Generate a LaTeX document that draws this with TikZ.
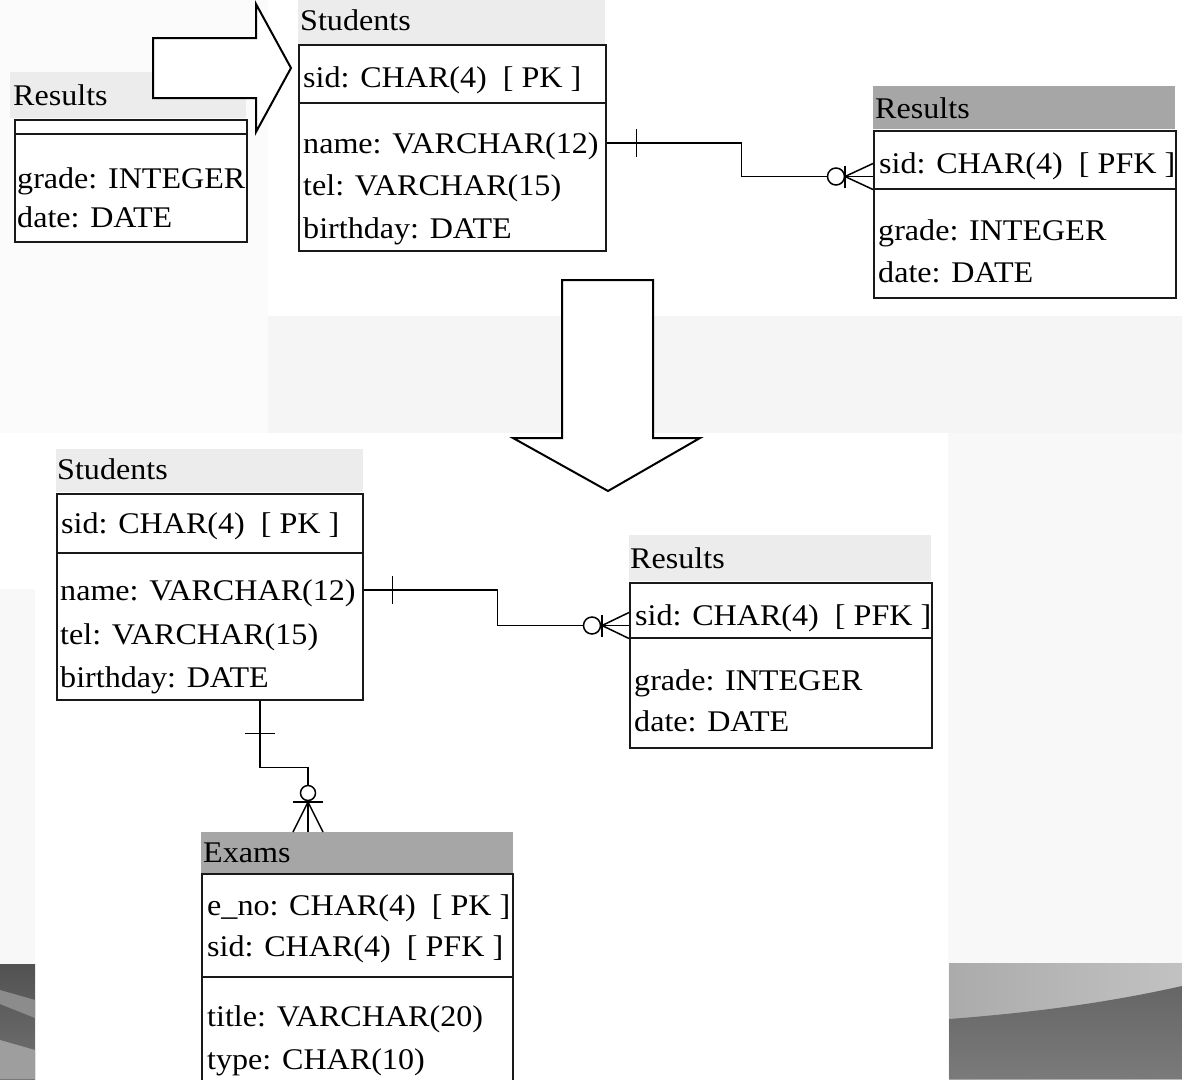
\documentclass[tikz,border=0pt]{standalone}
\usepackage{fontspec}
\setmainfont{Liberation Serif}[FakeStretch=1.07]
\usetikzlibrary{calc}

\definecolor{slidebg}{HTML}{F8F8F8}
\definecolor{bandgray}{HTML}{F5F5F5}
\definecolor{hdrlight}{HTML}{ECECEC}
\definecolor{hdrdark}{HTML}{A6A6A6}

\begin{document}
\begin{tikzpicture}[x=1pt, y=-1pt,
    tbl/.style={draw=black!90, line width=1.5pt, fill=white, anchor=north west, inner sep=0pt},
    hdr/.style={fill=#1, anchor=north west, inner sep=0pt},
    txt/.style={anchor=west, inner sep=0pt, text height=20pt, text depth=0pt,
                font=\fontsize{30}{36}\selectfont},
    conn/.style={line width=1.5pt},
    blockarrow/.style={draw=black, line width=2pt, fill=white, line join=miter}]
        \useasboundingbox (0,0) rectangle (1182,1079);
        \clip (0,0) rectangle (1182,1079);

        % backdrop of the slide
        \fill[slidebg] (0,0) rectangle (1182,1079);
        \fill[white!50!slidebg] (0,0) rectangle (268,433);
        \fill[white] (268,0) rectangle (1182,316);
        \fill[bandgray] (268,316) rectangle (1182,433);
        \fill[white] (0,433) rectangle (948,589);
        \fill[white] (35,589) rectangle (948,1079);
        \shade[top color=black!68, bottom color=black!55] (0,964) rectangle (35,1079);
        \fill[black!45] (0,990) -- (35,1000) -- (35,1018) -- (0,1004) -- cycle;
        \fill[black!38] (0,1040) -- (35,1050) -- (35,1079) -- (0,1079) -- cycle;
        \shade[left color=black!33, right color=black!24] (949,963) rectangle (1182,1079);
        \shade[top color=black!60, bottom color=black!52] (949,1019) .. controls (1040,1012) and (1110,1002) .. (1182,986) -- (1182,1079) -- (949,1079) -- cycle;

        % old Results
        \node[hdr=hdrlight, minimum width=236pt, minimum height=46pt] (ohead) at (10,72) {};
        \node[tbl, minimum width=232pt, minimum height=14pt] (okey) at (14,119) {};
        \node[tbl, minimum width=232pt, minimum height=108pt] (oattr) at (14,133) {};
        \node[txt] (otitle) at (13,95) {Results};
        \node[txt] (ograde) at (17,178) {grade: INTEGER};
        \node[txt] (odate) at (17,217) {date: DATE};

        % Students (top)
        \node[hdr=hdrlight, minimum width=307pt, minimum height=44pt] (shead) at (298,0) {};
        \node[tbl, minimum width=307pt, minimum height=58pt] (skey) at (298,44) {};
        \node[tbl, minimum width=307pt, minimum height=148pt] (sattr) at (298,102) {};
        \node[txt] (stitle) at (300,20) {Students};
        \node[txt] (ssid) at (303,77) {sid: CHAR(4)\ \ [ PK ]};
        \node[txt] (sname) at (303,143) {name: VARCHAR(12)};
        \node[txt] (stel) at (303,185) {tel: VARCHAR(15)};
        \node[txt] (sbirth) at (303,228) {birthday: DATE};

        % Results (top)
        \node[hdr=hdrdark, minimum width=302pt, minimum height=43pt] (rhead) at (873,86) {};
        \node[tbl, minimum width=302pt, minimum height=58pt] (rkey) at (873,130) {};
        \node[tbl, minimum width=302pt, minimum height=109pt] (rattr) at (873,188) {};
        \node[txt] (rtitle) at (875,108) {Results};
        \node[txt] (rsid) at (879,163) {sid: CHAR(4)\ \ [ PFK ]};
        \node[txt] (rgrade) at (878,230) {grade: INTEGER};
        \node[txt] (rdate) at (878,272) {date: DATE};

        % Students (bottom)
        \node[hdr=hdrlight, minimum width=307pt, minimum height=43pt] (bshead) at (56,449) {};
        \node[tbl, minimum width=306pt, minimum height=59pt] (bskey) at (56,493) {};
        \node[tbl, minimum width=306pt, minimum height=147pt] (bsattr) at (56,552) {};
        \node[txt] (bstitle) at (57,469) {Students};
        \node[txt] (bssid) at (61,523) {sid: CHAR(4)\ \ [ PK ]};
        \node[txt] (bsname) at (60,590) {name: VARCHAR(12)};
        \node[txt] (bstel) at (60,634) {tel: VARCHAR(15)};
        \node[txt] (bsbirth) at (60,677) {birthday: DATE};

        % Results (bottom)
        \node[hdr=hdrlight, minimum width=302pt, minimum height=46pt] (brhead) at (629,535) {};
        \node[tbl, minimum width=302pt, minimum height=55pt] (brkey) at (629,582) {};
        \node[tbl, minimum width=302pt, minimum height=110pt] (brattr) at (629,637) {};
        \node[txt] (brtitle) at (630,558) {Results};
        \node[txt] (brsid) at (635,615) {sid: CHAR(4)\ \ [ PFK ]};
        \node[txt] (brgrade) at (634,680) {grade: INTEGER};
        \node[txt] (brdate) at (634,721) {date: DATE};

        % Exams
        \node[hdr=hdrdark, minimum width=312pt, minimum height=41pt] (ehead) at (201,832) {};
        \node[tbl, minimum width=311pt, minimum height=103pt] (ekey) at (201,873) {};
        \node[tbl, minimum width=311pt, minimum height=140pt] (eattr) at (201,976) {};
        \node[txt] (etitle) at (203,852) {Exams};
        \node[txt] (eno) at (207,905) {e\_no: CHAR(4)\ \ [ PK ]};
        \node[txt] (esid) at (207,946) {sid: CHAR(4)\ \ [ PFK ]};
        \node[txt] (etit) at (207,1016) {title: VARCHAR(20)};
        \node[txt] (etype) at (207,1059) {type: CHAR(10)};

        % Students -> Results (top)
        \coordinate (rfoot) at ($(rkey.south west)+(0,-13)$);
        \draw[conn] (sattr.east |- sname) -- ++(135,0) |- (rfoot);
        \draw[conn] ($(sattr.east |- sname)+(30,-14)$) -- ++(0,28);
        \draw[conn] ($(rfoot)+(0,-13)$) -- ($(rfoot)+(-28,0)$) -- ($(rfoot)+(0,13)$);
        \draw[conn] ($(rfoot)+(-28,-11)$) -- ++(0,22);
        \draw[conn, fill=white] ($(rfoot)+(-37,0)$) circle[radius=8.5pt];

        % Students -> Results (bottom)
        \coordinate (bfoot) at ($(brkey.south west)+(0,-13)$);
        \draw[conn] (bsattr.east |- bsname) -- ++(134,0) |- (bfoot);
        \draw[conn] ($(bsattr.east |- bsname)+(29,-14)$) -- ++(0,28);
        \draw[conn] ($(bfoot)+(0,-13)$) -- ($(bfoot)+(-27,0)$) -- ($(bfoot)+(0,13)$);
        \draw[conn] ($(bfoot)+(-27,-11)$) -- ++(0,22);
        \draw[conn, fill=white] ($(bfoot)+(-37,0)$) circle[radius=8.5pt];

        % Students -> Exams
        \coordinate (estart) at ($(bsattr.south west)+(204,0)$);
        \coordinate (efoot) at ($(ehead.north west)+(107,0)$);
        \draw[conn] (estart) -- ++(0,67) -| (efoot);
        \draw[conn] ($(estart)+(-15,33)$) -- ++(30,0);
        \draw[conn] ($(efoot)+(-15,0)$) -- ($(efoot)+(0,-30)$) -- ($(efoot)+(15,0)$);
        \draw[conn] ($(efoot)+(-15,-30)$) -- ++(30,0);
        \draw[conn, fill=white] ($(efoot)+(0,-39)$) circle[radius=7.5pt];

        % big arrows
        \draw[blockarrow] (153,38) -- (256,38) -- (256,4) -- (291,68) -- (256,132) -- (256,98) -- (153,98) -- cycle;
        \draw[blockarrow] (562,280) -- (653,280) -- (653,438) -- (700,438) -- (608,491) -- (513,438) -- (562,438) -- cycle;
\end{tikzpicture}
\end{document}
